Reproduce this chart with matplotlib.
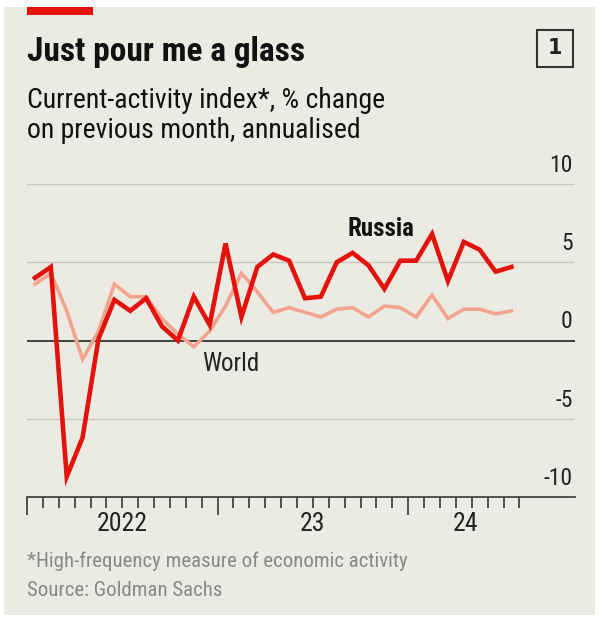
import matplotlib.pyplot as plt
from matplotlib import font_manager
from matplotlib.patches import Rectangle
from matplotlib.transforms import blended_transform_factory

# Monthly readings, Jan 2022 - Jul 2024
russia = [4.0, 4.7, -8.7, -6.2, 0.1, 2.6, 1.9, 2.7, 0.9, 0.0, 2.8, 1.0,
          6.2, 1.5, 4.7, 5.5, 5.1, 2.7, 2.8, 5.0, 5.6, 4.8, 3.3, 5.1,
          5.1, 6.8, 3.8, 6.3, 5.8, 4.4, 4.7]
world = [3.6, 4.3, 1.9, -1.2, 0.6, 3.6, 2.8, 2.8, 1.4, 0.4, -0.4, 0.6,
         2.2, 4.3, 3.1, 1.8, 2.1, 1.8, 1.5, 2.0, 2.1, 1.5, 2.2, 2.1,
         1.5, 2.9, 1.4, 2.0, 2.0, 1.7, 1.9]
y_ticks = [10, 5, 0, -5, -10]
y_labels = ["10", "5", "0", "-5", "-10"]
year_labels = ["2022", "23", "24"]
year_label_pos = [6.0, 18.0, 27.6]
n_ticks = 32  # month boundaries drawn on the x axis

BG = "#ECEBE3"
RED = "#E3120B"
SALMON = "#F3A48E"

# pick a narrow font if one is installed
names = {f.name for f in font_manager.fontManager.ttflist}
narrow = [n for n in ["Liberation Sans Narrow", "Roboto Condensed",
                      "Open Sans Condensed"] if n in names]
if narrow:
    FONT = dict(family=[narrow[0], "DejaVu Sans"])
else:
    FONT = dict(family=["DejaVu Sans"], stretch="condensed")

fig = plt.figure(figsize=(6, 6.27), dpi=100)
fig.patch.set_facecolor("white")
fig.patches.append(Rectangle((4 / 600, 1 - 615 / 627), 591 / 600, 608 / 627,
                             transform=fig.transFigure, facecolor=BG,
                             edgecolor="none", zorder=-2))
fig.patches.append(Rectangle((27 / 600, 1 - 15 / 627), 66 / 600, 8 / 627,
                             transform=fig.transFigure, facecolor=RED,
                             edgecolor="none", zorder=-1))

ax = fig.add_axes([27 / 600, 1 - 497 / 627, 548 / 600, 313 / 627])
ax.set_facecolor("none")
ax.set_xlim(0, 34.5)
ax.set_ylim(-10, 10)

months = [i + 0.5 for i in range(len(russia))]
ax.plot(months, world, color=SALMON, lw=2.6, solid_joinstyle="miter", zorder=3)
ax.plot(months, russia, color=RED, lw=3.3, solid_joinstyle="miter", zorder=4)

for v in y_ticks:
    if v == 0:
        ax.axhline(v, color="#333333", lw=1.3, zorder=2)
    elif v == -10:
        ax.axhline(v, color="#444444", lw=1.3, zorder=2, clip_on=False)
    else:
        ax.axhline(v, color="#C9C8C0", lw=1.0, zorder=1)

trans = blended_transform_factory(ax.transAxes, ax.transData)
for v, lab in zip(y_ticks, y_labels):
    ax.text(0.996, v + 0.45, lab, transform=trans, ha="right", va="bottom",
            fontsize=17, color="#222222", **FONT)

# month ticks hanging below the axis
for i in range(n_ticks):
    major = i % 12 == 0
    ax.plot([i, i], [-10, -11.15 if major else -10.7], color="#444444",
            lw=1.3, clip_on=False, solid_capstyle="butt")
for pos, lab in zip(year_label_pos, year_labels):
    ax.text(pos, -11.75, lab, ha="center", va="center", fontsize=18.5,
            color="#222222", **FONT)

ax.text(22.3, 7.1, "Russia", fontsize=18, fontweight="bold", color="#111111",
        ha="center", va="center", **FONT)
ax.text(12.8, -1.5, "World", fontsize=18, color="#222222",
        ha="center", va="center", **FONT)

for s in ax.spines.values():
    s.set_visible(False)
ax.set_xticks([])
ax.set_yticks([])

fig.text(27 / 600, 1 - 52 / 627, "Just pour me a glass", fontsize=24,
         fontweight="bold", color="#111111", va="center", **FONT)
fig.text(27 / 600, 1 - 101 / 627, "Current-activity index*, % change",
         fontsize=20, color="#111111", va="center", **FONT)
fig.text(27 / 600, 1 - 131 / 627, "on previous month, annualised",
         fontsize=20, color="#111111", va="center", **FONT)

fig.patches.append(Rectangle((537 / 600, 1 - 67 / 627), 36 / 600, 37 / 627,
                             transform=fig.transFigure, facecolor="none",
                             edgecolor="#333333", lw=1.5, zorder=2))
fig.text(555 / 600, 1 - 48 / 627, "1", fontsize=15, fontweight="bold",
         color="#222222", ha="center", va="center")

fig.text(27 / 600, 1 - 561 / 627, "*High-frequency measure of economic activity",
         fontsize=15, color="#888888", va="center", **FONT)
fig.text(27 / 600, 1 - 590 / 627, "Source: Goldman Sachs",
         fontsize=15, color="#888888", va="center", **FONT)

fig.savefig("out.png", dpi=100, facecolor=fig.get_facecolor())
